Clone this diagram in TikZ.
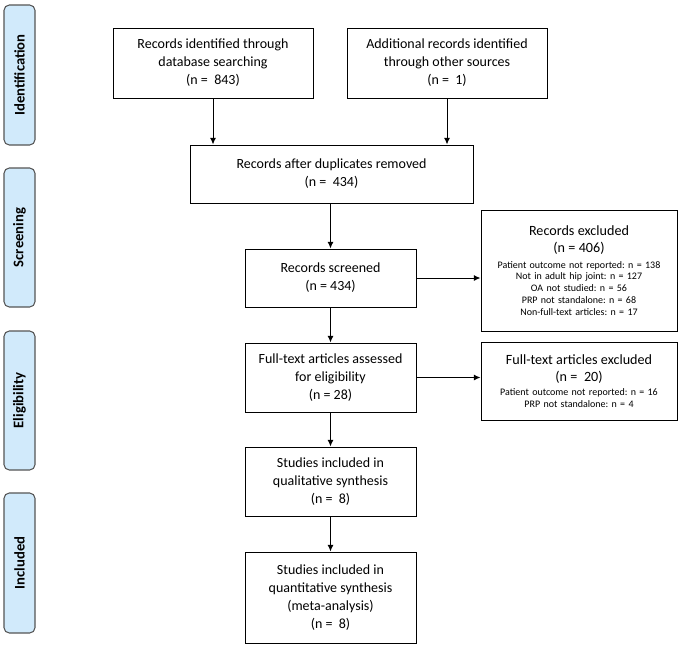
\documentclass[tikz,border=0pt]{standalone}
\usepackage{fontspec}
\setmainfont{Carlito}
\frenchspacing
\usetikzlibrary{arrows.meta}
\usetikzlibrary{positioning}
\definecolor{stagefill}{RGB}{209,234,251}
\definecolor{stageline}{RGB}{85,85,85}
\newcommand{\mainfs}{\fontsize{10.5}{13.5}\selectfont}
\newcommand{\headfs}{\fontsize{10.6}{12.5}\selectfont}
\newcommand{\notefs}{\fontsize{7.5}{8.8}\selectfont}
\newcommand{\stagefs}{\fontsize{11}{12}\selectfont\bfseries}

\begin{document}
\begin{tikzpicture}[x=0.75pt, y=-0.75pt,
    box/.style={draw, line width=0.75pt, align=center, inner sep=2pt, font=\mainfs},
    exclbox/.style={box, text width=140pt, minimum width=147pt, font=\notefs},
    stage/.style={draw=stageline, fill=stagefill, rounded corners=4pt, line width=0.8pt,
      rotate=90, minimum height=23.25pt, inner sep=0pt, font=\stagefs},
    arr/.style={-{Latex[length=5pt,width=4.5pt]}, line width=0.75pt}]
    \useasboundingbox (0, 0) rectangle (681, 650);

    % stages on the left
    \node [stage, minimum width=105pt] (ident) at (19.5, 75) {Identification};
    \node [stage, minimum width=104.25pt] (screen) at (19.5, 237.5) {Screening};
    \node [stage, minimum width=104.25pt] (elig) at (19.5, 400.5) {Eligibility};
    \node [stage, minimum width=105pt] (incl) at (19.5, 563) {Included};

    % flow
    \node [box, minimum width=150pt, minimum height=52.5pt] (dbrec) at (213, 63)
      {Records identified through\\database searching\\(n =\ \ 843)};
    \node [box, minimum width=150pt, minimum height=52.5pt] (otherrec) at (447, 63)
      {Additional records identified\\through other sources\\(n =\ \ 1)};
    \node [box, minimum width=212.25pt, minimum height=43.5pt] (dedup) at (331.5, 174)
      {Records after duplicates removed\\(n =\ \ 434)};
    \node [box, minimum width=128.25pt, minimum height=43.5pt] (screened) at (330.5, 278)
      {Records screened\\(n = 434)};
    \node [box, minimum width=128.25pt, minimum height=51.75pt] (fulltext) at (330.5, 377.5)
      {Full-text articles assessed\\for eligibility\\(n = 28)};
    \node [box, minimum width=128.25pt, minimum height=51.75pt] (qual) at (330.5, 481.5)
      {Studies included in\\qualitative synthesis\\(n =\ \ 8)};
    \node [box, minimum width=128.25pt, minimum height=68.25pt] (quant) at (330.5, 597.5)
      {Studies included in\\quantitative synthesis\\(meta-analysis)\\(n =\ \ 8)};

    % exclusions
    \node [exclbox, minimum height=90.75pt] (exclrec) at (579, 270.5)
      {\headfs Records excluded\\(n = 406)\\[3pt]
       \notefs Patient outcome not reported: n = 138\\Not in adult hip joint: n = 127\\
       OA not studied: n = 56\\PRP not standalone: n = 68\\Non-full-text articles: n = 17};
    \node [exclbox, minimum height=58.5pt] (exclfull) at (579, 381)
      {\headfs Full-text articles excluded\\(n =\ \ 20)\\[2pt]
       \notefs Patient outcome not reported: n = 16\\PRP not standalone: n = 4};

    \draw [arr] (dbrec.south) -- (dbrec.south |- dedup.north);
    \draw [arr] (otherrec.south) -- (otherrec.south |- dedup.north);
    \draw [arr] (screened.north |- dedup.south) -- (screened.north);
    \draw [arr] (screened.east) -- (screened.east -| exclrec.west);
    \draw [arr] (screened) -- (fulltext);
    \draw [arr] (fulltext.east) -- (fulltext.east -| exclfull.west);
    \draw [arr] (fulltext) -- (qual);
    \draw [arr] (qual) -- (quant);
  \end{tikzpicture}
\end{document}
